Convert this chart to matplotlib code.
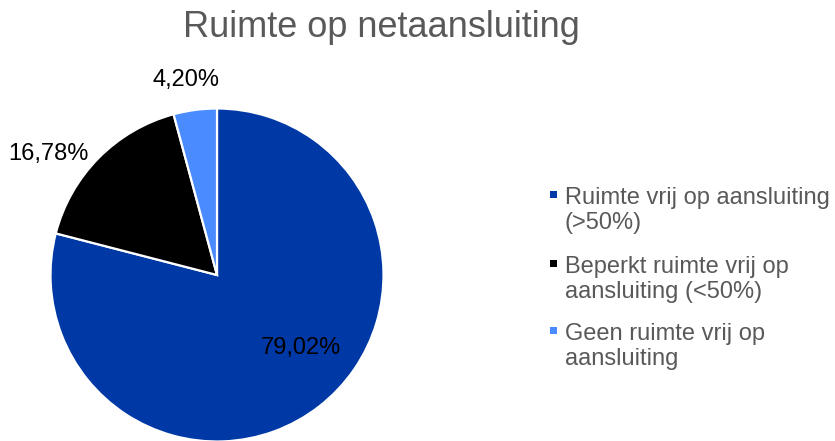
import matplotlib
matplotlib.use("Agg")
import matplotlib.pyplot as plt
from matplotlib.patches import Rectangle

plt.rcParams['font.family'] = ['Liberation Sans', 'DejaVu Sans']

title = "Ruimte op netaansluiting"
categories = ["Ruimte vrij op aansluiting\n(>50%)",
              "Beperkt ruimte vrij op\naansluiting (<50%)",
              "Geen ruimte vrij op\naansluiting"]
values = [79.02, 16.78, 4.20]
value_labels = ["79,02%", "16,78%", "4,20%"]
colors = ["#0039A6", "#000000", "#4A8BFF"]

W, H = 835, 441
fig = plt.figure(figsize=(W / 100, H / 100), dpi=100)

# pie axes: centre (217, 275) px from top, radius 166.5 px
cx, cy, r = 217, 275, 166.5
ax = fig.add_axes([(cx - r) / W, (H - cy - r) / H, 2 * r / W, 2 * r / H])
wedges, _ = ax.pie(values, colors=colors, startangle=90, counterclock=False,
                   wedgeprops=dict(edgecolor="white", linewidth=1.6))
ax.set_xlim(-1, 1)
ax.set_ylim(-1, 1)
ax.set_aspect("equal")
ax.axis("off")

label_pos = [(0.505, -0.44), (-1.01, 0.725), (-0.185, 1.17)]
for txt, (x, y) in zip(value_labels, label_pos):
    ax.text(x, y, txt, ha="center", va="center", fontsize=17, color="#000000",
            clip_on=False)

fig.text(381 / W, 1 - 37 / H, title, ha="center", va="baseline",
         fontsize=26, color="#595959")

# legend (manual, marker aligned to first line)
first_baselines = [202, 271, 338]
line_pitch = 27
for lab, col, yb in zip(categories, colors, first_baselines):
    nlines = lab.count("\n")
    fig.text(565 / W, 1 - (yb + nlines * line_pitch) / H, lab, ha="left",
             va="baseline", fontsize=17, color="#595959", linespacing=1.18)
    fig.add_artist(Rectangle((550 / W, 1 - (yb - 4) / H), 7 / W, 7 / H,
                             transform=fig.transFigure, facecolor=col,
                             edgecolor="none"))

fig.savefig("out.png", dpi=100)
